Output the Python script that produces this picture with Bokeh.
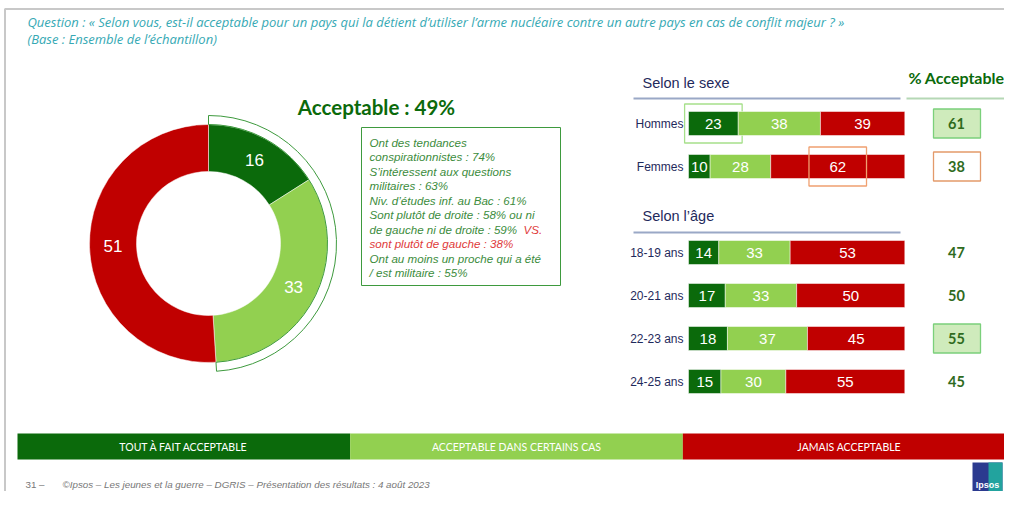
import math
from bokeh.plotting import figure
from bokeh.models import Range1d, ColumnDataSource
from bokeh.core.properties import value
from bokeh.embed import file_html
from bokeh.resources import INLINE

# ---------------- data ----------------
question = ("Question : « Selon vous, est-il acceptable pour un pays qui la détient d’utiliser "
            "l’arme nucléaire contre un autre pays en cas de conflit majeur ? »")
base_text = "(Base : Ensemble de l’échantillon)"

categories = ["Tout à fait acceptable", "Acceptable dans certains cas", "Jamais acceptable"]
donut_values = [16, 33, 51]

sex_groups = ["Hommes", "Femmes"]
sex_tout = [23, 10]
sex_certains = [38, 28]
sex_jamais = [39, 62]

age_groups = ["18-19 ans", "20-21 ans", "22-23 ans", "24-25 ans"]
age_tout = [14, 17, 18, 15]
age_certains = [33, 33, 37, 30]
age_jamais = [53, 50, 45, 55]

insight_green = ["Ont des tendances", "conspirationnistes : 74%", "S’intéressent aux questions",
                 "militaires : 63%", "Niv. d’études inf. au Bac : 61%",
                 "Sont plutôt de droite : 58% ou ni", "de gauche ni de droite : 59%", "",
                 "Ont au moins un proche qui a été", "/ est militaire : 55%"]
insight_red = ["", "", "", "", "", "", "VS.", "sont plutôt de gauche : 38%", "", ""]

footer = "©Ipsos – Les jeunes et la guerre – DGRIS – Présentation des résultats : 4 août 2023"
page_no = "31 –"

# ---------------- style ----------------
DARK = "#0B6A0B"
LIGHT = "#92D050"
RED = "#C00000"
COLORS = [DARK, LIGHT, RED]
NAVY = "#1F2A5C"
TEXTGREEN = "#2F6B1E"
BOXGREEN = "#3E9A3E"
TEAL = "#36A9B4"

W, H = 1004, 491
def Y(ry):
    return 507 - ry

p = figure(width=W, height=H, x_range=Range1d(0, W), y_range=Range1d(507 - H, 507),
           output_backend="svg", toolbar_location=None, min_border=0)
p.axis.visible = False
p.grid.visible = False
p.outline_line_color = None
p.background_fill_color = "white"
p.border_fill_color = "white"

# percent scale for bars: 0 -> px 688, 100 -> px 904.3
PX0, PXPER = 688.0, 2.163
ps = (0 - PX0) / PXPER
p.extra_x_ranges = {"pct": Range1d(ps, ps + W / PXPER)}

# slide frame
p.line(x=[4, 1004], y=[Y(8.5), Y(8.5)], line_color="#C8C8C8", line_width=2)
p.line(x=[4.5, 4.5], y=[Y(8.5), Y(507)], line_color="#C8C8C8", line_width=2)

# ---------------- header ----------------
p.text(x=[27], y=[Y(21)], text=[question], text_font=value("Open Sans"), text_font_style="italic",
       text_font_size="13px", text_color=TEAL, text_baseline="middle")
p.text(x=[27], y=[Y(38.5)], text=[base_text], text_font=value("Open Sans"), text_font_style="italic",
       text_font_size="13px", text_color=TEAL, text_baseline="middle")

# ---------------- donut ----------------
CX, CY, R_OUT, R_IN = 208, Y(243), 119, 72
cum = [0]
for v in donut_values:
    cum.append(cum[-1] + v)
starts = [math.pi / 2 - 2 * math.pi * c / 100 for c in cum[:-1]]
ends = [math.pi / 2 - 2 * math.pi * c / 100 for c in cum[1:]]
src = ColumnDataSource(dict(start=starts, end=ends, color=COLORS))
p.annular_wedge(x=CX, y=CY, inner_radius=R_IN, outer_radius=R_OUT, start_angle="start",
                end_angle="end", direction="clock", fill_color="color", line_color="white",
                line_width=0.5, source=src)
acc = donut_values[0] + donut_values[1]
# outline of acceptable part
p.annular_wedge(x=CX, y=CY, inner_radius=R_OUT, outer_radius=R_OUT + 9, start_angle=math.pi / 2,
                end_angle=math.pi / 2 - 2 * math.pi * acc / 100, direction="clock",
                fill_alpha=0, line_color=BOXGREEN, line_width=1)
mids = [2 * math.pi * (a + b) / 200 for a, b in zip(cum[:-1], cum[1:])]
rm = (R_IN + R_OUT) / 2
p.text(x=[CX + rm * math.sin(m) for m in mids], y=[CY + rm * math.cos(m) for m in mids],
       text=[str(v) for v in donut_values], text_color="white", text_font=value("Liberation Sans"),
       text_font_size="17px", text_align="center", text_baseline="middle")

p.text(x=[376], y=[Y(106)], text=[f"Acceptable : {acc}%"], text_font=value("Lato"),
       text_font_style="bold", text_font_size="20.5px", text_color=DARK, text_align="center",
       text_baseline="middle")

# insight box
p.quad(left=[361], right=[560], top=[Y(127)], bottom=[Y(285)], fill_alpha=0,
       line_color=BOXGREEN, line_width=1)
for i, (g, r) in enumerate(zip(insight_green, insight_red)):
    yy = Y(141.5 + i * 14.5)
    if g:
        p.text(x=[369], y=[yy], text=[g], text_font=value("Liberation Sans"), text_font_style="italic",
               text_font_size="11.6px", text_color="#3C8C3C", text_baseline="middle")
    if r:
        p.text(x=[523 if g else 369], y=[yy], text=[r], text_font=value("Liberation Sans"),
               text_font_style="italic", text_font_size="11.6px", text_color="#E03A3A",
               text_baseline="middle")

# ---------------- right panel ----------------
def section_title(txt, ry_text, ry_line):
    p.text(x=[642], y=[Y(ry_text)], text=[txt], text_font=value("Liberation Sans"),
           text_font_size="14.5px", text_color=NAVY, text_baseline="middle")
    p.line(x=[633, 900], y=[Y(ry_line), Y(ry_line)], line_color="#9AA8C6", line_width=2)

section_title("Selon le sexe", 82, 98)
section_title("Selon l’âge", 215, 232)
p.text(x=[956], y=[Y(77)], text=["% Acceptable"], text_font=value("Lato"), text_font_style="bold",
       text_font_size="16px", text_color=DARK, text_align="center", text_baseline="middle")
p.line(x=[906, 1008], y=[Y(98), Y(98)], line_color="#B5D8B5", line_width=2)


def draw_rows(groups, tout, cert, jam, row_ys, highlights, acc_boxes):
    ys = [Y(r) for r in row_ys]
    series = [tout, cert, jam]
    lefts = [0] * len(groups)
    for s, col in zip(series, COLORS):
        rights = [l + v for l, v in zip(lefts, s)]
        p.hbar(y=ys, left=lefts, right=rights, height=24, fill_color=col, line_color="white",
               line_width=0.5, x_range_name="pct")
        p.text(x=[(l + r) / 2 for l, r in zip(lefts, rights)], y=ys, text=[str(v) for v in s],
               text_color="white", text_font=value("Liberation Sans"), text_font_size="15px",
               text_align="center", text_baseline="middle", x_range_name="pct")
        for (gi, si, color) in highlights:
            if series[si] is s:
                c = (lefts[gi] + rights[gi]) / 2
                p.quad(left=[c - 13.3], right=[c + 13.3], top=[ys[gi] + 19.5],
                       bottom=[ys[gi] - 19.5], fill_alpha=0, line_color=color, line_width=1.3,
                       x_range_name="pct")
        lefts = rights
    p.text(x=[683] * len(groups), y=ys, text=groups, text_font=value("Liberation Sans"),
           text_font_size="12px", text_color=NAVY, text_align="right", text_baseline="middle")
    accs = [a + b for a, b in zip(tout, cert)]
    for gi, (fill, line) in acc_boxes.items():
        p.quad(left=[933], right=[980], top=[ys[gi] + 14.5], bottom=[ys[gi] - 14.5],
               fill_color=fill if fill else "white", fill_alpha=1 if fill else 0,
               line_color=line, line_width=1.3)
    p.text(x=[956] * len(groups), y=ys, text=[str(a) for a in accs], text_font=value("Lato"),
           text_font_style="bold", text_font_size="14.5px", text_color=TEXTGREEN,
           text_align="center", text_baseline="middle")


draw_rows(sex_groups, sex_tout, sex_certains, sex_jamais, [123, 166],
          [(0, 0, "#A6E08A"), (1, 2, "#F0A070")],
          {0: ("#CFEBBC", "#7BD07B"), 1: (None, "#E39A6A")})
draw_rows(age_groups, age_tout, age_certains, age_jamais, [252, 295, 338, 381],
          [], {2: ("#CFEBBC", "#7BD07B")})

# ---------------- legend bar ----------------
LX0, LX1 = 17, 1015
seg = (LX1 - LX0) / len(categories)
for i, (cat, col) in enumerate(zip(categories, COLORS)):
    p.quad(left=[LX0 + i * seg], right=[LX0 + (i + 1) * seg], top=[Y(433)], bottom=[Y(459)],
           fill_color=col, line_color=None)
    p.text(x=[LX0 + (i + 0.5) * seg], y=[Y(446)], text=[cat.upper()], text_font=value("Lato"),
           text_font_size="10.5px", text_color="white", text_align="center",
           text_baseline="middle")

# ---------------- footer ----------------
p.text(x=[25], y=[Y(484)], text=[page_no], text_font=value("Liberation Sans"),
       text_font_size="9.8px", text_color="#777777", text_baseline="middle")
p.text(x=[62], y=[Y(484)], text=[footer], text_font=value("Liberation Sans"),
       text_font_style="italic", text_font_size="9.8px", text_color="#777777",
       text_baseline="middle")
# logo
p.quad(left=[972], right=[1002], top=[Y(462)], bottom=[Y(491)], fill_color="#2B3A8F",
       line_color=None)
p.quad(left=[988], right=[1002], top=[Y(462)], bottom=[Y(491)], fill_color="#22A39E",
       line_color=None)
p.text(x=[987], y=[Y(484)], text=["Ipsos"], text_font=value("Liberation Sans"),
       text_font_style="bold", text_font_size="9px", text_color="white", text_align="center",
       text_baseline="middle")

open("out.html", "w").write(file_html(p, INLINE))
